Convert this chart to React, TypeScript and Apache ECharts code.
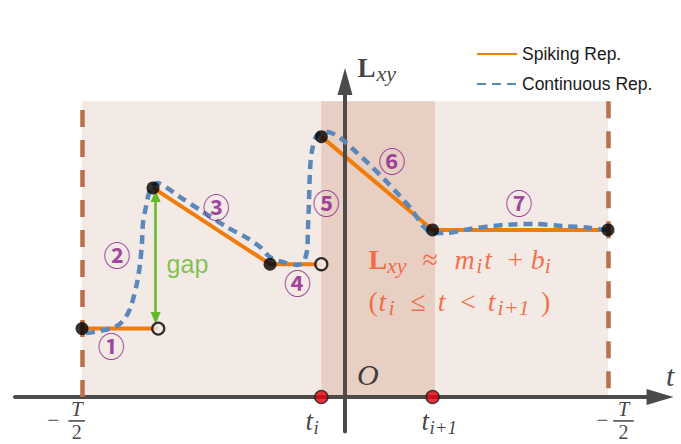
import React, { useEffect, useRef } from "react";
import * as echarts from "echarts";

// ---------- data (units: T/2 = 10) ----------
const halfT = 10;
const tI = -0.9;
const tNext = 3.33;
const bandStart = -0.9;
const bandEnd = 3.42;
const shadeTop = 11.25;

const spikingSeg1 = [[-10, 2.6], [-7.1, 2.6]];
const spikingSeg2 = [[-7.3, 7.95], [-2.85, 5.05], [-0.9, 5.05]];
const spikingSeg3 = [[-0.9, 9.9], [3.33, 6.35], [10, 6.35]];
const filledDots = [[-10, 2.6], [-7.3, 7.95], [-2.85, 5.05], [-0.9, 9.9], [3.33, 6.35], [10, 6.35]];
const openDots = [[-7.1, 2.6], [-0.9, 5.05]];

const continuousT = [-9.85, -9.32, -8.75, -8.48, -8.25, -8.1, -7.91, -7.79, -7.72, -7.68, -7.57, -7.41, -7.15, -6.77, -6.27, -5.51, -4.49, -3.73, -3.23, -2.85, -2.36, -1.83, -1.6, -1.44, -1.41, -1.37, -1.33, -1.25, -1.06, -0.68, -0.19, 0.46, 0.87, 1.52, 2.09, 2.55, 2.97, 3.35, 3.88, 4.75, 6.01, 7.15, 8.29, 9.32, 10.15];
const continuousL = [2.43, 2.51, 2.66, 2.85, 3.19, 3.57, 4.33, 5.1, 5.86, 6.62, 7.22, 7.87, 8.14, 7.95, 7.6, 7.11, 6.46, 6.05, 5.7, 5.32, 5.13, 5.02, 5.1, 5.59, 6.35, 7.38, 8.63, 9.39, 9.96, 10.08, 9.85, 9.28, 8.9, 8.25, 7.64, 7.11, 6.5, 6.24, 6.24, 6.39, 6.54, 6.58, 6.5, 6.43, 6.31];

const gapArrow = [[-7.2, 7.64], [-7.2, 3.0]];
const pieceNames = ["①", "②", "③", "④", "⑤", "⑥", "⑦"];
const piecePos = [[-8.89, 1.94], [-8.67, 5.4], [-4.9, 7.26], [-1.81, 4.37], [-0.71, 7.41], [1.79, 9.01], [6.62, 7.41]];
const legendNames = ["Spiking Rep.", "Continuous Rep."];

// ---------- layout ----------
const W = 681;
const H = 444;
const PX = 26.3; // pixels per unit
const ORIGIN_X = 345;
const ORIGIN_Y = 397;

const C = {
  light: "#f4eae5",
  band: "#e8cfc4",
  axis: "#4d4b4a",
  brown: "#b8704f",
  orange: "#f07c0c",
  blue: "#5a88ba",
  purple: "#8b1a8c",
  green: "#63b82d",
  formula: "#f4511e",
  red: "#e3000f",
};
const serif = "'Liberation Serif', 'DejaVu Serif', serif";
const sans = "'Liberation Sans', Arial, sans-serif";

type Kind = "b" | "v" | "n" | "s";
type Tok = [string, Kind, number];

function richLabel(tokens: Tok[], size: number, sub: number, color: string) {
  const rich: Record<string, any> = {};
  let fmt = "";
  tokens.forEach(([text, kind, pad], i) => {
    const key = "k" + i;
    const base: any = { fontFamily: serif, fontSize: size, lineHeight: size + 6, color, padding: [0, 0, 0, pad] };
    if (kind === "b") base.fontWeight = "bold";
    if (kind === "v") base.fontStyle = "italic";
    if (kind === "s") {
      base.fontStyle = "italic";
      base.fontSize = sub;
      base.lineHeight = sub;
      base.verticalAlign = "bottom";
    }
    rich[key] = base;
    fmt += `{${key}|${text}}`;
  });
  return { formatter: fmt, rich };
}

function textItem(value: number[], label: any) {
  return { value, label: { show: true, ...label } };
}

export default function App() {
  const ref = useRef<HTMLDivElement>(null);

  useEffect(() => {
    document.body.style.margin = "0";
    if (!ref.current) return;
    const chart = echarts.init(ref.current, undefined, { renderer: "svg" });

    const line1 = richLabel(
      [["L", "b", 0], ["xy", "s", 0], ["≈", "n", 16], ["m", "v", 16.5], ["i", "s", 1.5], ["t", "v", 2], ["+", "n", 15.5], ["b", "v", 7.5], ["i", "s", 0]],
      28, 22, C.formula
    );
    const line2 = richLabel(
      [["(", "n", 0], ["t", "v", 0.7], ["i", "s", 2.2], ["≤", "n", 16], ["t", "v", 11.8], ["<", "n", 14.8], ["t", "v", 11.6], ["i+1", "s", 2.2], [")", "n", 11.5]],
      28, 22, C.formula
    );
    const lxy = richLabel([["L", "b", 0], ["xy", "s", 1]], 27, 22, "#111");
    const ti = richLabel([["t", "v", 0], ["i", "s", 0.5]], 27, 19, "#111");
    const tn = richLabel([["t", "v", 0], ["i+1", "s", 0.5]], 27, 19, "#111");

    const math = (text: string, size: number, italic: boolean) => ({
      formatter: text,
      fontFamily: serif,
      fontSize: size,
      lineHeight: size - 2,
      fontStyle: italic ? "italic" : "normal",
      color: "#111",
      position: "inside",
    });

    const textData: any[] = [
      textItem([12.36, 0.8], math("t", 30, true)),
      textItem([0.87, 0.87], math("O", 30, true)),
      textItem([0.46, 12.52], { ...lxy, position: "right", distance: 0 }),
      textItem([-1.52, -0.9], { ...ti, position: "right", distance: 0 }),
      textItem([2.89, -0.9], { ...tn, position: "right", distance: 0 }),
      textItem([-11.1, -0.86], math("−", 21, false)),
      textItem([-10.2, -0.47], math("T", 21, true)),
      textItem([-10.2, -1.33], math("2", 20, false)),
      textItem([9.79, -0.86], math("−", 21, false)),
      textItem([10.59, -0.47], math("T", 21, true)),
      textItem([10.59, -1.33], math("2", 20, false)),
      textItem([-5.99, 5.06], { formatter: "gap", fontFamily: sans, fontSize: 25, color: C.green, position: "inside" }),
      textItem([0.87, 5.24], { ...line1, position: "right", distance: 0 }),
      textItem([0.87, 3.65], { ...line2, position: "right", distance: 0 }),
      ...pieceNames.map((n, i) =>
        textItem(piecePos[i], {
          formatter: n,
          fontFamily: "'Noto Sans CJK JP', 'DejaVu Sans', sans-serif",
          fontSize: 27,
          fontWeight: "bold",
          color: C.purple,
          position: "inside",
        })
      ),
    ];

    const spikingStyle = { color: C.orange, width: 4 };

    chart.setOption({
      animation: false,
      grid: { left: 0, right: 0, top: 0, bottom: 0 },
      xAxis: { type: "value", min: -ORIGIN_X / PX, max: (W - ORIGIN_X) / PX, show: false },
      yAxis: { type: "value", min: -(H - ORIGIN_Y) / PX, max: ORIGIN_Y / PX, show: false },
      legend: {
        data: legendNames,
        orient: "vertical",
        left: 476,
        top: 45,
        padding: 0,
        itemWidth: 40,
        itemHeight: 14,
        itemGap: 12,
        itemStyle: { opacity: 0 },
        textStyle: { fontFamily: sans, fontSize: 17.5, color: "#1a1a1a" },
        selectedMode: false,
      },
      series: [
        {
          type: "line",
          data: [],
          z: 1,
          silent: true,
          markArea: {
            silent: true,
            itemStyle: { color: C.light },
            data: [
              [{ coord: [-halfT, 0] }, { coord: [halfT, shadeTop] }],
              [{ coord: [bandStart, 0], itemStyle: { color: C.band } }, { coord: [bandEnd, shadeTop] }],
            ],
          },
        },
        {
          type: "line",
          data: [],
          z: 2,
          silent: true,
          markLine: {
            silent: true,
            symbol: ["none", "triangle"],
            label: { show: false },
            emphasis: { disabled: true },
            lineStyle: { color: C.axis, width: 4, type: "solid", cap: "round" },
            data: [
              [{ coord: [-12.55, 0] }, { coord: [11.98, 0], symbolSize: [16, 27] }],
              [{ coord: [0, -1.31] }, { coord: [0, 12.0], symbolSize: [15, 27] }],
            ],
          },
        },
        {
          type: "line",
          data: [],
          z: 3,
          silent: true,
          markLine: {
            silent: true,
            symbol: ["none", "none"],
            label: { show: false },
            emphasis: { disabled: true },
            lineStyle: { color: C.brown, width: 4.5, type: [17, 13] },
            data: [
              [{ coord: [-halfT, 0] }, { coord: [-halfT, shadeTop] }],
              [{ coord: [halfT, shadeTop] }, { coord: [halfT, 0] }],
            ],
          },
        },
        { type: "line", name: legendNames[0], data: spikingSeg1, symbol: "none", lineStyle: spikingStyle, itemStyle: { color: C.orange }, z: 4, silent: true },
        { type: "line", name: legendNames[0], data: spikingSeg2, symbol: "none", lineStyle: spikingStyle, itemStyle: { color: C.orange }, z: 4, silent: true },
        { type: "line", name: legendNames[0], data: spikingSeg3, symbol: "none", lineStyle: spikingStyle, itemStyle: { color: C.orange }, z: 4, silent: true },
        {
          type: "line",
          name: legendNames[1],
          data: continuousT.map((t, i) => [t, continuousL[i]]),
          symbol: "none",
          smooth: 0.3,
          lineStyle: { color: C.blue, width: 4.5, type: [9, 6] },
          itemStyle: { color: C.blue },
          z: 5,
          silent: true,
        },
        {
          type: "line",
          data: [],
          z: 5,
          silent: true,
          markLine: {
            silent: true,
            symbol: ["triangle", "triangle"],
            label: { show: false },
            emphasis: { disabled: true },
            lineStyle: { color: C.green, width: 2.5, type: "solid" },
            data: [[{ coord: gapArrow[0], symbolSize: [10, 12] }, { coord: gapArrow[1], symbolSize: [10, 12] }]],
          },
        },
        { type: "line", data: [[-10.52, -0.91], [-9.89, -0.91]], symbol: "none", lineStyle: { color: "#111", width: 1.2 }, z: 6, silent: true },
        { type: "line", data: [[10.2, -0.91], [10.98, -0.91]], symbol: "none", lineStyle: { color: "#111", width: 1.2 }, z: 6, silent: true },
        { type: "scatter", data: filledDots, symbolSize: 13, itemStyle: { color: "#000" }, z: 7, silent: true },
        { type: "scatter", data: openDots, symbolSize: 12, itemStyle: { color: C.light, borderColor: "#000", borderWidth: 2.3 }, z: 7, silent: true },
        { type: "scatter", data: [[tI, 0], [tNext, 0]], symbolSize: 13, itemStyle: { color: C.red, borderColor: "#222", borderWidth: 1.5 }, z: 7, silent: true },
        { type: "scatter", data: textData, symbolSize: 1, itemStyle: { color: "rgba(0,0,0,0)" }, z: 8, silent: true },
      ],
    });

    return () => chart.dispose();
  }, []);

  return <div ref={ref} style={{ width: W, height: H }} />;
}
